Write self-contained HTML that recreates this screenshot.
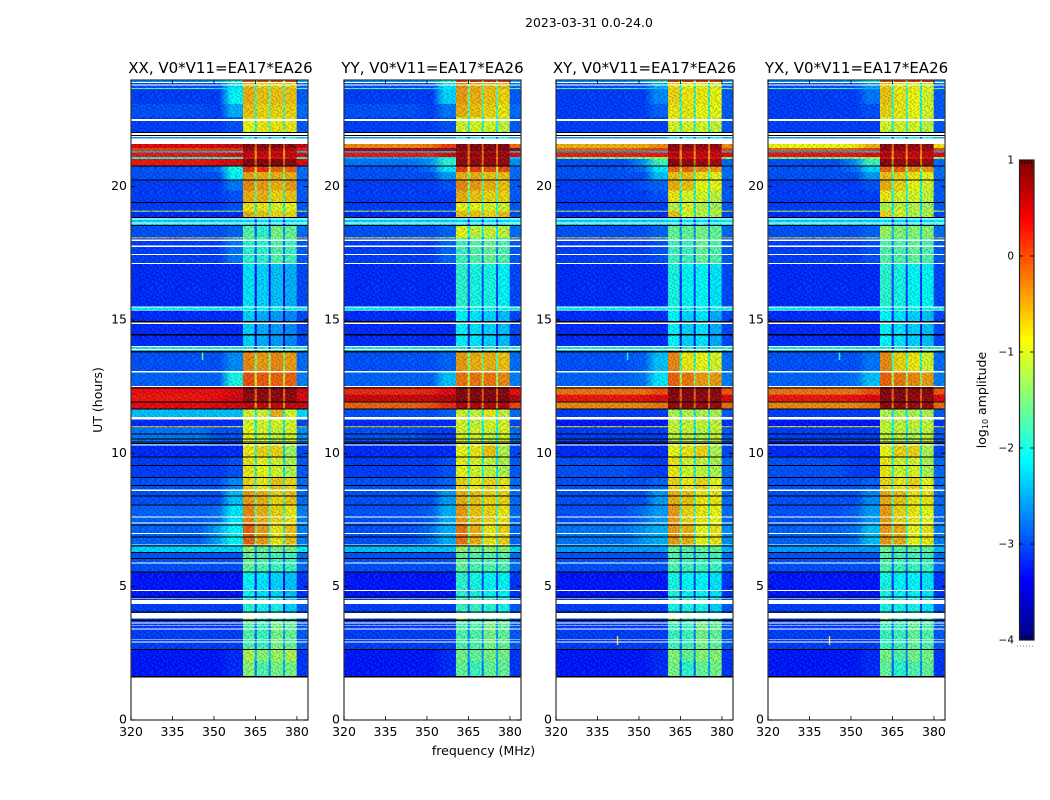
<!DOCTYPE html>
<html>
<head>
<meta charset="utf-8">
<title>2023-03-31 amplitude waterfall</title>
<style>
html,body{margin:0;padding:0;background:#fff;width:1050px;height:800px;overflow:hidden}
svg{display:block}
text{font-family:"DejaVu Sans","Liberation Sans",sans-serif;fill:#000}
</style>
</head>
<body>
<svg id="fig" xmlns="http://www.w3.org/2000/svg" width="1050" height="800" viewBox="0 0 1050 800">
<defs id="defs"></defs>
<text x="589" y="27" font-size="12.4" text-anchor="middle">2023-03-31 0.0-24.0</text>
<text x="102" y="400" font-size="12.5" text-anchor="middle" transform="rotate(-90 102 400)">UT (hours)</text>
<text x="483.5" y="755" font-size="12.5" text-anchor="middle">frequency (MHz)</text>
<text x="986" y="400" font-size="12.5" text-anchor="middle" transform="rotate(-90 986 400)">log<tspan font-size="8" dy="2">10</tspan><tspan dy="-2"> amplitude</tspan></text>
</svg>
<script>
// ---------- chart data (UT hours, MHz, log10 amplitude) ----------
const panelTitles = ["XX, V0*V11=EA17*EA26","YY, V0*V11=EA17*EA26","XY, V0*V11=EA17*EA26","YX, V0*V11=EA17*EA26"];
const xTicks = [320,335,350,365,380];
const yTicks = [0,5,10,15,20];
const cbarTicks = [1,0,-1,-2,-3,-4];
const freqEdges = [320,345,352,356,360.5,364.7,365.5,369.8,370.5,375,375.7,379.9,384];
const bandEdges = [24,23.9,23.7,23.66,23.1,22.6,22,21.6,21.45,21.33,21.28,21.11,21.04,20.78,20.55,20.25,19.85,19.4,19.1,19.06,18.84,18.54,18.1,18.06,17.1,15.5,15.35,14,13.85,13.05,12.5,12.2,11.95,11.65,11.3,11.02,10.98,10.3,9.85,9.1,8.6,8.05,7.35,6.55,6.3,5.55,4.6,3.8,3.72,2.65,2.2,1.65];
// each row: below 345 MHz, at 352 MHz, 356-360.5 MHz, sub-band 1, 2, 3, 4
const levelsXX = [
[-2.6,-2.4,-1.8,0,.1,.1,.1],[-3,-3,-2.2,-.6,-.7,-.7,-.7],[-1.6,-2.2,-2.2,-.5,-.6,-.6,-.6],[-3.1,-3.1,-2.1,-.5,-.6,-.6,-.6],
[-3,-3.1,-2.5,-.6,-.7,-.7,-.7],[-3.1,-3.1,-3,-.9,-.8,-.8,-.8],[-2.6,-2.6,-2.6,-2.1,-2.1,-2.1,-2.1],[.45,.5,.6,.95,.95,.95,.95],
[.1,.15,.2,.8,.8,.7,.7],[-2.4,-2.4,-2.2,.5,.5,.5,.5],[.3,.3,.4,.6,.6,.6,.6],[-2,-2,-1.8,.4,.4,.4,.4],
[.3,.4,.5,.95,.95,.95,.9],[-3,-2.8,-2,.15,.2,-.1,-.1],[-3,-3,-2.1,-.45,-.5,-.5,-.5],[-3.1,-3.1,-2.8,-.3,-.4,-.5,-.4],
[-3.1,-3.1,-3,-.5,-.5,-.7,-.6],[-3.1,-3.1,-3,-.8,-.8,-1,-.9],[-1.2,-1.3,-1.4,-.6,-.7,-.7,-.7],[-3.2,-3.2,-3.2,-.5,-.6,-.7,-.7],
[-2.3,-2.3,-2.3,-2.2,-2.2,-2.2,-2.2],[-3,-3,-2.9,-1.7,-1.9,-1.5,-1.6],[-.6,-.5,-1,-1.2,-1.3,-1.3,-1.3],[-3.1,-3.1,-2.8,-1.9,-1.9,-1.7,-1.8],
[-3.2,-3.2,-3.2,-2.2,-2.3,-2.4,-2.5],[-2.1,-2.1,-2.1,-2,-2,-2,-2],[-3.2,-3.2,-3.2,-2.3,-2.5,-2.6,-2.7],[-2.1,-2.1,-2.1,-2,-2,-2,-2],
[-3,-3,-2.7,-.3,-.4,-.3,-.4],[-2.9,-2.9,-2,0,-.05,-.1,-.1],[.35,.35,.45,.9,.9,.9,.9],[.3,.4,.5,.85,.85,.85,.85],
[.4,.45,.5,.6,.6,.6,.6],[-2.4,-2.4,-2.4,-1,-1,-.5,-1],[-3.2,-3.2,-3.2,-1,-1,-1,-1],[-.6,-.6,-.9,-1,-1,-.8,-1],
[-2.8,-3,-3,-.9,-1,-1.1,-1],[-3.2,-3.2,-3.2,-.8,-.7,-.7,-1.3],[-3.1,-3.1,-3,-.8,-.9,-1,-1.2],[-3,-3,-2.7,-.7,-.8,-.6,-.7],
[-3,-3,-2.4,-.4,-.5,-.7,-.6],[-2.9,-2.8,-2.2,-.3,-.5,-.7,-.8],[-2.9,-2.5,-2.1,-.1,-.4,-.8,-.6],[-2.3,-2.3,-2.3,-1.4,-1.6,-1.5,-1.5],
[-3,-3,-3,-1.6,-1.7,-1.8,-1.8],[-3.3,-3.3,-3.3,-2.1,-2.2,-2.3,-2.4],[-3.1,-3.1,-3.1,-1.9,-2,-2,-2.3],[-3,-3,-3,-.9,-1.9,-1.9,-1.9],
[-3.1,-3.1,-3.1,-1.7,-1.8,-1.5,-1.6],[-3.3,-3.3,-3.2,-1.2,-1.4,-1.3,-1.2],[-3.3,-3.3,-3.2,-1.4,-1.7,-1.5,-1.5]];
const levelsYY = [
[-2.6,-2.4,-1.8,.1,.2,.2,.2],[-3,-3,-2.2,-.3,-.5,-.6,-.6],[-1.6,-2.2,-2.2,-.4,-.5,-.5,-.6],[-3.1,-3.1,-2.3,-.4,-.5,-.6,-.7],
[-3,-3.1,-2.8,-.5,-.6,-.7,-.8],[-3.1,-3.1,-3,-1,-1,-1,-1.1],[-2.6,-2.6,-2.6,-2.1,-2.1,-2.1,-2.1],[-.3,-.2,.1,.95,.95,.95,.95],
[.65,.7,.75,.95,.95,.95,.95],[-2.4,-2.4,-2.2,.6,.6,.6,.6],[.3,.2,.5,.85,.85,.85,.85],[-2.5,-2.4,-2,.7,.7,.7,.7],
[-2.8,-2.6,-1.9,.85,.85,.85,.85],[-3,-2.8,-2.2,.1,.1,0,0],[-3,-3,-2.6,-.5,-.5,-.6,-.6],[-3.1,-3.1,-3,-.3,-.4,-.5,-.6],
[-3.1,-3.1,-3.1,-.5,-.6,-.7,-.7],[-3.1,-3.1,-3.1,-.9,-.9,-1,-1],[-1.2,-1.3,-1.4,-.6,-.7,-.7,-.7],[-3.2,-3.2,-3.2,-.6,-.6,-.7,-.6],
[-2.3,-2.3,-2.3,-2.2,-2.2,-2.2,-2.2],[-3,-3,-2.9,-.9,-1.1,-1.1,-1.1],[-.8,-.7,-1,-1.2,-1.3,-1.3,-1.3],[-3.1,-3.1,-2.9,-1.8,-1.7,-1.6,-1.7],
[-3.2,-3.2,-3.2,-1.9,-2,-2,-2.1],[-2.1,-2.1,-2.1,-2,-2,-2,-2],[-3.2,-3.2,-3.2,-2.1,-2.2,-2.3,-2.4],[-2.1,-2.1,-2.1,-2,-2,-2,-2],
[-3,-3,-2.9,-.4,-.5,-.5,-.6],[-2.9,-2.9,-2.4,-.2,-.2,-.2,-.3],[.2,.25,.4,.95,.95,.9,.9],[.55,.6,.7,.95,.95,.95,.95],
[-.1,0,.2,.7,.7,.7,.7],[-3,-3,-2.9,-1,-1.1,-.8,-1.1],[-3.2,-3.2,-3.2,-1,-1.1,-1,-1],[-.6,-.6,-.9,-1,-1,-.8,-1],
[-3,-3.1,-3.1,-1,-1,-1.1,-1],[-3.2,-3.2,-3.2,-.9,-.8,-.6,-1.2],[-3.1,-3.1,-3,-.9,-1,-1.1,-1.2],[-3,-3,-2.9,-.7,-.8,-.7,-.8],
[-3,-3,-2.6,-.5,-.6,-.7,-.7],[-3,-2.9,-2.5,-.4,-.6,-.7,-.8],[-3,-2.8,-2.5,-.2,-.5,-.8,-.7],[-2.4,-2.4,-2.4,-1.3,-1.5,-1.4,-1.4],
[-3,-3,-3,-1.6,-1.7,-1.7,-1.7],[-3.3,-3.3,-3.3,-1.9,-2,-2.1,-2.1],[-3.1,-3.1,-3.1,-1.8,-1.8,-1.9,-2],[-3,-3,-3,-.9,-1.8,-1.8,-1.8],
[-3.1,-3.1,-3.1,-1.7,-1.7,-1.5,-1.6],[-3.3,-3.3,-3.2,-1.5,-1.6,-1.5,-1.5],[-3.3,-3.3,-3.2,-1.6,-1.8,-1.6,-1.6]];
const levelsXY = [
[-2.6,-2.4,-1.9,.1,.2,.2,.2],[-3,-3,-2.5,-.8,-.9,-.9,-1],[-1.6,-2.2,-2.4,-.7,-.8,-.8,-.9],[-3.1,-3.1,-2.7,-.7,-.8,-.8,-.9],
[-3.1,-3.1,-2.9,-.8,-.8,-.9,-.9],[-3.1,-3.1,-3.1,-1,-1,-1,-1.1],[-2.6,-2.6,-2.6,-2.1,-2.1,-2.1,-2.1],[-.5,-.5,-.3,.9,.9,.85,.85],
[-.1,0,.1,.85,.8,.75,.75],[-2.6,-2.5,-2.3,.5,.5,.5,.5],[.25,.25,.3,.65,.6,.6,.6],[-1.4,-1.4,-1.2,.4,.4,.4,.4],
[-3,-2.6,-1.8,.9,.85,.8,.75],[-3,-2.8,-2.2,-.1,-.1,-.3,-.4],[-3,-3,-2.4,-.6,-.6,-.8,-.9],[-3.1,-3,-2.9,-.5,-.6,-.9,-.9],
[-3.1,-3.1,-3,-.8,-1,-1,-1.1],[-3.1,-3.1,-3.1,-1.2,-1,-1.2,-1.3],[-1.2,-1.3,-1.4,-.7,-.8,-.8,-.8],[-3.2,-3.2,-3.2,-.6,-1,-1.2,-1.2],
[-2.3,-2.3,-2.3,-2.2,-2.2,-2.2,-2.2],[-3,-3,-2.9,-1.6,-1.6,-1.5,-1.6],[-.6,-.6,-1,-1.3,-1.4,-1.4,-1.4],[-3.1,-3.1,-3,-1.8,-1.8,-1.6,-1.7],
[-3.2,-3.2,-3.2,-2,-2.1,-2.1,-2.2],[-2.1,-2.1,-2.1,-2,-2,-2,-2],[-3.2,-3.2,-3.2,-2.1,-2.3,-2.2,-2.5],[-2.1,-2.1,-2.1,-2,-2,-2,-2],
[-3,-2.9,-2.4,-.3,-.8,-.9,-1],[-2.9,-2.8,-2.2,-.1,-.2,-.4,-.4],[-.2,-.2,0,.95,.95,.9,.9],[.3,.35,.45,.9,.9,.85,.85],
[-.3,-.3,-.2,.85,.85,.8,.8],[-3.1,-3.1,-3.1,-1.2,-1.2,-1.2,-1.2],[-3.3,-3.3,-3.3,-1.1,-1.1,-1.1,-1.1],[-.7,-.6,-.9,-1,-1,-.8,-1],
[-3.1,-3.1,-3.1,-1.1,-1.1,-1.2,-1.1],[-3.2,-3.2,-3.2,-.9,-.8,-.7,-1.2],[-3,-3.1,-3.1,-.8,-1,-1.1,-1.2],[-3,-3,-2.9,-.7,-.8,-.7,-.9],
[-3,-3,-2.6,-.5,-.6,-.8,-.8],[-3,-2.8,-2.6,-.4,-.7,-.8,-.9],[-2.8,-2.6,-2.5,-.4,-.5,-.9,-.8],[-2.6,-2.6,-2.6,-1.6,-1.7,-1.6,-1.6],
[-3,-3,-3,-1.7,-1.8,-1.8,-1.8],[-3.3,-3.3,-3.3,-2,-2.1,-2.1,-2.2],[-3.1,-3.1,-3.1,-2,-2,-2,-2.3],[-3,-3,-3,-1,-1.9,-1.9,-1.9],
[-3.1,-3.1,-3.1,-1.8,-1.8,-1.5,-1.6],[-3.3,-3.3,-3.2,-1.4,-1.6,-1.4,-1.4],[-3.3,-3.3,-3.2,-1.5,-1.9,-1.6,-1.5]];
const levelsYX = [
[-2.6,-2.4,-1.9,.1,.2,.2,.2],[-3,-3,-2.6,-.7,-.9,-.9,-1],[-1.6,-2.2,-2.4,-.6,-.8,-.8,-.9],[-3.1,-3.1,-2.8,-.6,-.8,-.9,-1],
[-3.1,-3.1,-3,-.7,-.8,-.9,-1],[-3.1,-3.1,-3.1,-1,-1,-1,-1.1],[-2.6,-2.6,-2.6,-2.1,-2.1,-2.1,-2.1],[-.9,-.8,-.5,.9,.9,.85,.85],
[-.1,-.05,.1,.9,.85,.8,.8],[-2.6,-2.5,-2.3,.5,.5,.5,.5],[.3,.3,.4,.7,.65,.6,.6],[-1.4,-1.4,-1.2,.4,.4,.4,.4],
[-3,-2.6,-1.8,.9,.85,.85,.8],[-3,-2.8,-2.3,-.1,-.1,-.3,-.4],[-3,-3,-2.6,-.6,-.7,-.8,-.9],[-3.1,-3.1,-3,-.5,-.7,-.9,-1],
[-3.1,-3.1,-3.1,-.8,-1,-1,-1.1],[-3.1,-3.1,-3.1,-1.2,-1.1,-1.2,-1.3],[-1.2,-1.3,-1.4,-.7,-.8,-.8,-.8],[-3.2,-3.2,-3.2,-.7,-1,-1.2,-1.2],
[-2.3,-2.3,-2.3,-2.2,-2.2,-2.2,-2.2],[-3,-3,-2.9,-1.3,-1.4,-1.4,-1.4],[-.7,-.6,-1,-1.3,-1.4,-1.4,-1.4],[-3.1,-3.1,-3,-1.7,-1.7,-1.6,-1.7],
[-3.2,-3.2,-3.2,-1.9,-2,-2.1,-2.1],[-2.1,-2.1,-2.1,-2,-2,-2,-2],[-3.2,-3.2,-3.2,-2.1,-2.2,-2.3,-2.4],[-2.1,-2.1,-2.1,-2,-2,-2,-2],
[-3,-3,-2.8,-.3,-.7,-.8,-1],[-2.9,-2.8,-2.4,-.1,-.2,-.3,-.4],[-.2,-.2,0,.95,.95,.9,.9],[.3,.35,.45,.9,.9,.85,.85],
[-.3,-.3,-.2,.85,.85,.8,.8],[-3.1,-3.1,-3.1,-1.2,-1.2,-1.2,-1.2],[-3.3,-3.3,-3.3,-1.1,-1.1,-1.1,-1.1],[-.8,-.7,-.9,-1,-1,-.8,-1],
[-3.1,-3.1,-3.1,-1.1,-1.1,-1.2,-1.1],[-3.2,-3.2,-3.2,-.9,-.7,-.7,-1.2],[-3,-3.1,-3.1,-.8,-1,-1,-1.2],[-3,-3,-2.9,-.7,-.8,-.7,-.9],
[-3,-3,-2.7,-.5,-.6,-.8,-.8],[-3,-2.9,-2.6,-.4,-.7,-.8,-.9],[-2.9,-2.8,-2.4,-.4,-.5,-.9,-.8],[-2.6,-2.6,-2.6,-1.6,-1.7,-1.6,-1.6],
[-3,-3,-3,-1.7,-1.8,-1.8,-1.8],[-3.3,-3.3,-3.3,-2,-2.1,-2.1,-2.2],[-3.1,-3.1,-3.1,-2,-2,-2,-2.2],[-3,-3,-3,-1,-1.9,-1.9,-1.9],
[-3.1,-3.1,-3.1,-1.8,-1.8,-1.6,-1.7],[-3.3,-3.3,-3.2,-1.5,-1.7,-1.5,-1.5],[-3.3,-3.3,-3.2,-1.6,-1.9,-1.7,-1.6]];
const flaggedWhite = [[23.925,23.89],[23.83,23.79],[22.54,22.46],[22.01,21.945],[21.92,21.86],[21.8,21.6],[18.81,18.76],[18.66,18.61],[18.01,17.97],[17.8,17.74],[17.48,17.44],[17.14,17.1],[15.51,15.47],[15.38,15.35],[14.9,14.85],[14.03,13.99],[13.91,13.875],[13.08,13.03],[12.53,12.49],[11.36,11.27],[10.33,10.29],[8.64,8.59],[7.63,7.59],[7.4,7.36],[7.01,6.97],[6.59,6.56],[5.9,5.86],[4.88,4.84],[4.56,4.53],[4.5,4.35],[4.01,3.81],[3.65,3.62],[3.55,3.52],[3.43,3.39],[3.04,3.01],[2.94,2.91],[1.65,0]];
const flaggedBlack = [[22.05,22.01],[21.945,21.92],[20.8,20.76],[20.27,20.23],[19.42,19.38],[18.86,18.82],[18.56,18.52],[14.96,14.91],[14.48,14.42],[13.83,13.79],[12.47,12.44],[11.94,11.9],[11.69,11.65],[10.74,10.71],[10.56,10.53],[10.44,10.41],[10.38,10.35],[9.88,9.85],[9.57,9.54],[9.12,9.09],[8.82,8.79],[8.41,8.38],[8.08,8.05],[7.33,7.3],[6.88,6.85],[6.55,6.52],[6.3,6.27],[6.08,6.05],[5.57,5.53],[4.64,4.6],[4.07,4.04],[3.77,3.72],[2.66,2.64],[1.65,1.6]];
// [panel index, MHz, UT top, UT bottom, log10 amplitude]
const spikes = [[2,342,3.15,2.81,-.7],[3,342,3.15,2.81,-.7],[0,345.6,13.8,13.5,-1.6],[2,345.6,13.8,13.5,-2],[3,345.6,13.8,13.5,-2],
[0,327,19.1,19.06,.4],[0,335,19.1,19.06,.4],[0,343,19.1,19.06,.4],[1,329,19.1,19.06,.3],[1,334,19.1,19.06,.3],[2,333,19.1,19.06,.4],[3,333,19.1,19.06,.4],
[0,334,18.1,18.06,.4],[0,336,18.1,18.06,.4],[2,336,18.1,18.06,.4],[3,336,18.1,18.06,.4],[1,335,18.1,18.06,.4],
[0,333,11.02,10.98,.4],[0,335,11.02,10.98,.4],[1,340,11.02,10.98,.3],[2,334,11.02,10.98,.5],[2,344,11.02,10.98,.4],[3,334,11.02,10.98,.4]];
// repeating speckle texture, hand-typed: 0 darker, 1 none, 2 lighter, 3 lightest
const grainRows = ["102131201310210321012013","210113021201321102130121","031201120132101231021012","120312031021210103120301","211021102301032112011230","013120210112103021320101","120201321021301210012132","301112012310120103201210","102310201121032121102031","210021132010210301213012","031211002131201120130120","120103211012310212021103","213012031201021103112021","101220103121102310201312","032101212003121021130210","110213101231201120312001"];

// ---------- scales ----------
const panelLeft = [131,344,556,768];
const titleShift = [1,0,0,0];
const plotWidth = 177;
const plotTop = 80;
const plotBottom = 720;
const freqMin = 320;
const freqMax = 384;
const utMax = 24;
const cbarMax = 1;
const cbarMin = -4;
const panelLevels = [levelsXX,levelsYY,levelsXY,levelsYX];
const NS = "http://www.w3.org/2000/svg";
const fig = document.getElementById("fig");
const defs = document.getElementById("defs");

function xScale(p,f){return panelLeft[p]+(f-freqMin)*plotWidth/(freqMax-freqMin);}
function yScale(t){return plotBottom-t*(plotBottom-plotTop)/utMax;}
function cbarY(v){return 160+(cbarMax-v)*480/(cbarMax-cbarMin);}
function jet(v){
  const u=Math.max(0,Math.min(1,(v-cbarMin)/(cbarMax-cbarMin)));
  const ramp=function(a){return Math.max(0,Math.min(1,1.5-Math.abs(4*u-a)));};
  return "rgb("+Math.round(255*ramp(3))+","+Math.round(255*ramp(2))+","+Math.round(255*ramp(1))+")";
}
function make(tag,attrs,parent){
  const el=document.createElementNS(NS,tag);
  for(const k in attrs){el.setAttribute(k,attrs[k]);}
  (parent||fig).appendChild(el);
  return el;
}
const ramps = {};
function rampFill(a,b){
  if(a===b){return jet(a);}
  const key="ramp"+String(a).replace(/[-.]/g,"m")+"_"+String(b).replace(/[-.]/g,"m");
  if(!ramps[key]){
    const g=make("linearGradient",{id:key,x1:0,x2:1,y1:0,y2:0},defs);
    make("stop",{offset:0,"stop-color":jet(a)},g);
    make("stop",{offset:1,"stop-color":jet(b)},g);
    ramps[key]=true;
  }
  return "url(#"+key+")";
}
function cellFill(row,seg){
  // segments: below 345, 345-352, 352-356, 356-360.5, s1, gap, s2, gap, s3, gap, s4, right
  if(seg===0){return jet(row[0]);}
  if(seg===1){return rampFill(row[0],row[1]);}
  if(seg===2){return rampFill(row[1],row[2]);}
  if(seg===3){return jet(row[2]);}
  if(seg===4){return jet(row[3]);}
  if(seg===5){return jet(Math.min(row[3],row[4])-1);}
  if(seg===6){return jet(row[4]);}
  if(seg===7){return jet(Math.min(row[4],row[5])-1);}
  if(seg===8){return jet(row[5]);}
  if(seg===9){return jet(Math.min(row[5],row[6])-1);}
  if(seg===10){return jet(row[6]);}
  return jet(row[0]+0.15);
}

// ---------- grain pattern ----------
const pattern=make("pattern",{id:"grain",patternUnits:"userSpaceOnUse",x:0,y:0,width:grainRows[0].length*1.5,height:grainRows.length*1.5},defs);
grainRows.forEach(function(r,i){
  r.split("").forEach(function(c,j){
    if(c==="1"){return;}
    const g=make("rect",{x:j*1.5,y:i*1.5,width:1.5,height:1.5,fill:c==="0"?"#000":"#00a8ff","fill-opacity":c==="0"?0.22:(c==="2"?0.12:0.28)},pattern);
    
    
  });
});

// ---------- panels ----------
panelTitles.forEach(function(title,p){
  const group=make("g",{});
  
  

  const clipId="clip"+p;
  const clip=make("clipPath",{id:clipId},defs);
  make("rect",{x:panelLeft[p],y:plotTop,width:plotWidth,height:plotBottom-plotTop},clip);
  const plot=make("g",{"clip-path":"url(#"+clipId+")"},group);
  
  

  panelLevels[p].forEach(function(row,b){
    for(let s=0;s<freqEdges.length-1;s++){
      const x0=xScale(p,freqEdges[s]);
      const x1=xScale(p,freqEdges[s+1]);
      const y0=yScale(bandEdges[b]);
      const y1=yScale(bandEdges[b+1]);
      const cell=make("rect",{x:x0,y:y0,width:x1-x0+0.3,height:y1-y0+0.3,fill:cellFill(row,s)},plot);
      
      
    }
  });

  const grain=make("rect",{x:panelLeft[p],y:plotTop,width:plotWidth,height:yScale(bandEdges[bandEdges.length-1])-plotTop,fill:"url(#grain)"},plot);
  
  

  spikes.filter(function(d){return d[0]===p;}).forEach(function(d){
    const sp=make("rect",{x:xScale(p,d[1]),y:yScale(d[2]),width:1.4,height:yScale(d[3])-yScale(d[2]),fill:jet(d[4])},plot);
    
    
  });

  const flags=make("g",{"shape-rendering":"crispEdges"},plot);
  
  
  flaggedWhite.forEach(function(d){
    const w=make("rect",{x:panelLeft[p],y:yScale(d[0]),width:plotWidth,height:yScale(d[1])-yScale(d[0]),fill:"#fff"},flags);
    
    
  });
  flaggedBlack.forEach(function(d){
    const k=make("rect",{x:panelLeft[p],y:yScale(d[0]),width:plotWidth,height:Math.max(1,yScale(d[1])-yScale(d[0])),fill:"#000"},flags);
    
    
  });

  const frame=make("rect",{x:panelLeft[p],y:plotTop,width:plotWidth,height:plotBottom-plotTop,fill:"none",stroke:"#333","stroke-width":1.2},group);
  
  

  const ttl=make("text",{x:panelLeft[p]+plotWidth/2+titleShift[p],y:73,"font-size":15,"text-anchor":"middle"},group);
  ttl.textContent=title;
  
  

  xTicks.forEach(function(f){
    const x=xScale(p,f);
    [[plotBottom,plotBottom-4],[plotTop,plotTop+4]].forEach(function(e){
      const t=make("line",{x1:x,x2:x,y1:e[0],y2:e[1],stroke:"#000","stroke-width":0.8},group);
      
      
    });
    const lab=make("text",{x:x,y:736,"font-size":12.5,"text-anchor":"middle"},group);
    lab.textContent=String(f);
    
    
  });
  yTicks.forEach(function(u){
    const y=yScale(u);
    [[panelLeft[p],panelLeft[p]+4],[panelLeft[p]+plotWidth,panelLeft[p]+plotWidth-4]].forEach(function(e){
      const t=make("line",{x1:e[0],x2:e[1],y1:y,y2:y,stroke:"#000","stroke-width":0.8},group);
      
      
    });
    const lab=make("text",{x:panelLeft[p]-4,y:y+3.5,"font-size":12.5,"text-anchor":"end"},group);
    lab.textContent=String(u);
    
    
  });
});

// ---------- colorbar ----------
const cbar=make("g",{});


const cbarStrips=make("g",{"shape-rendering":"crispEdges"},cbar);
for(let i=0;i<120;i++){
  const v0=cbarMax-(cbarMax-cbarMin)*i/120;
  const v1=cbarMax-(cbarMax-cbarMin)*(i+1)/120;
  const strip=make("rect",{x:1019,y:cbarY(v0),width:15,height:cbarY(v1)-cbarY(v0)+0.5,fill:jet((v0+v1)/2)},cbarStrips);
  
  
}
const cbarFrame=make("rect",{x:1019.5,y:160,width:14.5,height:480,fill:"none",stroke:"#222","stroke-width":1.2},cbar);


cbarTicks.forEach(function(v){
  const y=cbarY(v);
  const lab=make("text",{x:1014,y:y+3.5,"font-size":10.5,"text-anchor":"end"},cbar);
  lab.textContent=(v<0?"\u2212":"")+Math.abs(v);
  
  
  if(v===cbarMax||v===cbarMin){return;}
  [[1019,1023],[1034,1030]].forEach(function(e){
    const t=make("line",{x1:e[0],x2:e[1],y1:y,y2:y,stroke:"#000","stroke-width":0.8},cbar);
    
    
  });
});
[1022,1025,1028,1031].forEach(function(x){
  [[160,164],[640,636]].forEach(function(e){
    const t=make("line",{x1:x,x2:x,y1:e[0],y2:e[1],stroke:"#000","stroke-width":0.8},cbar);
    
    
  });
});
const dots=make("line",{x1:1017,x2:1035,y1:646,y2:646,stroke:"#777","stroke-width":1,"stroke-dasharray":"1 2"},cbar);


</script>
</body>
</html>
